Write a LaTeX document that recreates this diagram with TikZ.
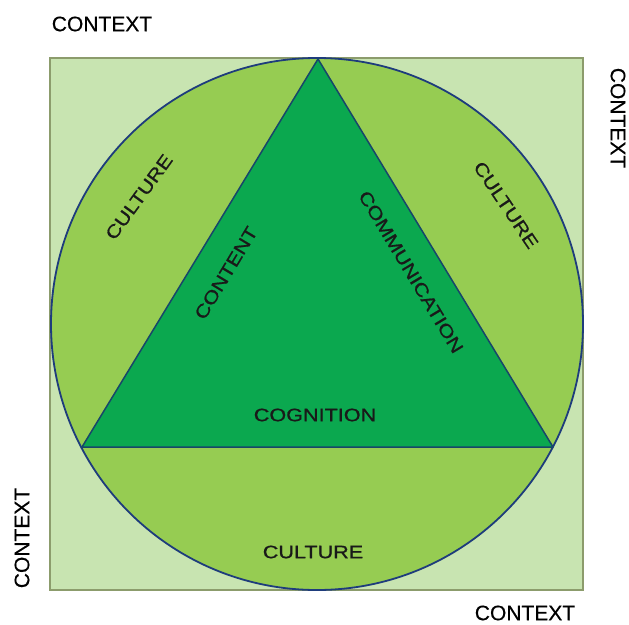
\documentclass[tikz,border=0pt]{standalone}
\usepackage{fontspec}
\setmainfont{Liberation Sans}
\newfontfamily\lblfont[FakeStretch=1.2, FakeBold=0.8]{Liberation Sans}
\newfontfamily\ctxfont[FakeBold=0.4]{Liberation Sans}
\definecolor{outerfill}{HTML}{C8E4B1}
\definecolor{outerline}{HTML}{8C9C6C}
\definecolor{ringfill}{HTML}{96CC52}
\definecolor{ringline}{HTML}{1E3C7C}
\definecolor{corefill}{HTML}{0BA84F}
\definecolor{coreline}{HTML}{17466A}
\tikzset{
  ctx/.style  = {font=\ctxfont\fontsize{21}{21}\selectfont, text=black, inner sep=0pt},
  lbl/.style  = {font=\lblfont\fontsize{18}{18}\selectfont, text=black!90, inner sep=0pt},
}

\begin{document}
\begin{tikzpicture}[x=1pt, y=-1pt]
    \fill[white] (0,0) rectangle (629,624);
    \useasboundingbox (0,0) rectangle (629,624);

    % context square, culture circle, core triangle
    \draw[draw=outerline, fill=outerfill, line width=1.2pt] (50,58) rectangle (583,590);
    \draw[draw=ringline, fill=ringfill, line width=1.8pt] (317,324) circle (266);
    \coordinate (apex)  at (318,59);
    \coordinate (left)  at (82,447);
    \coordinate (right) at (553,447);
    \draw[draw=coreline, fill=corefill, line width=1.5pt, line join=round] (apex) -- (left) -- (right) -- cycle;

    % context labels
    \node (ctx1) [ctx] at (102,24) {CONTEXT};
    \node (ctx2) [ctx, rotate=-90] at (618,118) {CONTEXT};
    \node (ctx3) [ctx, rotate=90] at (22,538) {CONTEXT};
    \node (ctx4) [ctx] at (525,613) {CONTEXT};

    % culture labels
    \node (cul1) [lbl, rotate=54] at (139,197) {CULTURE};
    \node (cul2) [lbl, rotate=-56] at (506,205) {CULTURE};
    \node (cul3) [lbl] at (313,552) {CULTURE};

    % triangle labels
    \node (cont) [lbl, rotate=59] at (226,273) {CONTENT};
    \node (comm) [lbl, rotate=-59] at (411,272) {COMMUNICATION};
    \node (cogn) [lbl] at (315,415) {COGNITION};
\end{tikzpicture}
\end{document}
